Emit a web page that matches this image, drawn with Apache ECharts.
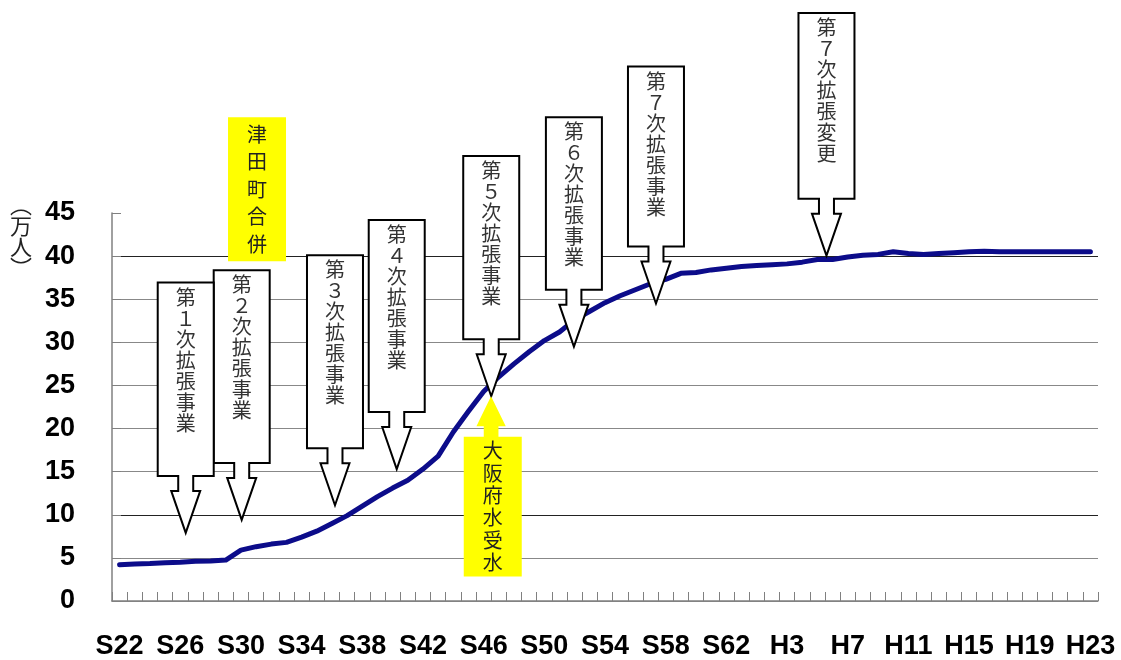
<!DOCTYPE html>
<html>
<head>
<meta charset="utf-8">
<script src="https://cdn.jsdelivr.net/npm/echarts@6/dist/echarts.min.js"></script>
<style>
html, body { margin: 0; padding: 0; background: #fff; }
#main { width: 1121px; height: 660px; }
</style>
</head>
<body>
<div id="main"></div>
<script>
// 年度 (昭和22年〜平成23年)
var years = ['S22','S23','S24','S25','S26','S27','S28','S29','S30','S31','S32','S33','S34','S35','S36','S37',
    'S38','S39','S40','S41','S42','S43','S44','S45','S46','S47','S48','S49','S50','S51','S52','S53','S54',
    'S55','S56','S57','S58','S59','S60','S61','S62','S63','H1','H2','H3','H4','H5','H6','H7','H8','H9',
    'H10','H11','H12','H13','H14','H15','H16','H17','H18','H19','H20','H21','H22','H23'];

// 給水人口 (万人)
var population = [4.2, 4.3, 4.35, 4.45, 4.5, 4.6, 4.65, 4.75, 5.9, 6.3, 6.6, 6.8, 7.4, 8.1, 9.0, 9.9,
    11.0, 12.1, 13.1, 14.0, 15.3, 16.8, 19.6, 22.0, 24.3, 26.0, 27.5, 28.9, 30.2, 31.2, 32.6, 33.6, 34.6,
    35.4, 36.1, 36.8, 37.3, 38.0, 38.1, 38.4, 38.6, 38.8, 38.9, 39.0, 39.1, 39.3, 39.6, 39.6, 39.9, 40.1, 40.2,
    40.5, 40.3, 40.2, 40.3, 40.4, 40.5, 40.55, 40.5, 40.5, 40.5, 40.5, 40.5, 40.5, 40.5];

// 拡張事業の吹き出し: 矢印の先(年度位置, 人口)と箱の上端(人口の目盛で)
var noteText = ['第１次拡張事業','第２次拡張事業','第３次拡張事業','第４次拡張事業',
    '第５次拡張事業','第６次拡張事業','第７次拡張事業','第７次拡張変更'];
var noteAt = [4.36, 8.05, 14.2, 18.27, 24.5, 29.95, 35.36, 46.6];
var noteTip = [7.9, 9.4, 11.1, 15.3, 23.75, 29.5, 34.5, 40.05];
var noteTop = [36.95, 38.35, 40.1, 44.2, 51.6, 56.1, 62.0, 68.2];

// 黄色の出来事
var eventText = ['津田町合併', '大阪府水受水'];
var eventAt = [9.06, 24.6];
var eventTop = [56.1, 19.05];
var eventBottom = [39.4, 2.83];
var eventTip = [null, 23.75];

var myChart = echarts.init(document.getElementById('main'));

var option = {
    animation: false,
    backgroundColor: '#fff',
    grid: {
        left: 112,
        right: 23,
        top: 213,
        bottom: 58
    },
    xAxis: {
        type: 'category',
        data: years,
        boundaryGap: true,
        axisLine: { lineStyle: { color: '#808080', width: 1.5 } },
        axisTick: {
            show: true,
            inside: true,
            length: 9,
            interval: 0,
            lineStyle: { color: '#808080' }
        },
        axisLabel: {
            interval: 3,
            margin: 32,
            color: '#000',
            fontSize: 27,
            fontWeight: 'bold',
            fontFamily: 'Liberation Sans, Arial, sans-serif'
        },
        splitLine: { show: false }
    },
    yAxis: {
        type: 'value',
        min: 0,
        max: 45,
        interval: 5,
        axisLine: { show: true, lineStyle: { color: '#808080', width: 1.5 } },
        axisTick: {
            show: true,
            inside: true,
            length: 9,
            lineStyle: { color: '#808080' }
        },
        axisLabel: {
            margin: 37,
            color: '#000',
            fontSize: 27,
            fontWeight: 'bold',
            fontFamily: 'Liberation Sans, Arial, sans-serif'
        },
        splitLine: {
            show: true,
            showMaxLine: false,
            lineStyle: {
                color: ['#888', '#888', '#222', '#888', '#888', '#888', '#888', '#888', '#222', '#888'],
                width: 1.2
            }
        }
    },
    series: [{
        name: '給水人口',
        type: 'line',
        data: population,
        showSymbol: false,
        symbol: 'none',
        smooth: false,
        lineStyle: {
            color: '#0c0c8a',
            width: 5,
            cap: 'round',
            join: 'round'
        },
        z: 2
    }]
};

option && myChart.setOption(option);

// 吹き出しを軸の目盛から配置
function buildNotes () {
    var p0 = myChart.convertToPixel({ gridIndex: 0 }, [0, 0]);
    var p1 = myChart.convertToPixel({ gridIndex: 0 }, [1, 45]);
    function xOf (i) { return p0[0] + (p1[0] - p0[0]) * i; }
    function yOf (v) { return p0[1] + (p1[1] - p0[1]) * v / 45; }

    var cjk = '"Noto Sans CJK JP", "Noto Sans CJK SC", sans-serif';
    var graphics = [];

    graphics.push({
        type: 'text',
        left: 10,
        top: 194,
        z: 100,
        style: {
            text: '︵\n万\n人\n︶',
            fill: '#222',
            font: '22px ' + cjk,
            lineHeight: 21,
            align: 'center'
        }
    });

    for (var k = 0; k < noteText.length; k++) {
        var cx = xOf(noteAt[k]);
        var tipY = yOf(noteTip[k]);
        var boxTop = yOf(noteTop[k]);
        var bb = tipY - 57;
        var sb = bb + 15;
        graphics.push({
            type: 'polygon',
            z: 100 + (noteText.length - k),
            shape: {
                points: [
                    [cx - 28, boxTop], [cx + 28, boxTop], [cx + 28, bb], [cx + 7.5, bb], [cx + 7.5, sb],
                    [cx + 14.5, sb], [cx, tipY], [cx - 14.5, sb], [cx - 7.5, sb], [cx - 7.5, bb], [cx - 28, bb]
                ]
            },
            style: { fill: '#fff', stroke: '#000', lineWidth: 2 }
        });
        var chars = noteText[k].split('');
        graphics.push({
            type: 'text',
            x: cx,
            y: boxTop + 4,
            z: 120,
            style: {
                text: chars.join('\n'),
                fill: '#333',
                font: '20px ' + cjk,
                lineHeight: 147 / chars.length,
                align: 'center',
                verticalAlign: 'top'
            }
        });
    }

    for (var e = 0; e < eventText.length; e++) {
        var ex = xOf(eventAt[e]);
        var et = yOf(eventTop[e]);
        var eb = yOf(eventBottom[e]);
        graphics.push({
            type: 'rect',
            z: 130,
            shape: { x: ex - 29, y: et, width: 58, height: eb - et },
            style: { fill: '#ffff00' }
        });
        if (eventTip[e] !== null) {
            var ty = yOf(eventTip[e]);
            var hb = ty + 30;
            graphics.push({
                type: 'polygon',
                z: 130,
                shape: {
                    points: [[ex - 1.7, ty], [ex + 13, hb], [ex + 5.7, hb], [ex + 5.7, et + 1],
                        [ex - 9, et + 1], [ex - 9, hb], [ex - 16.3, hb]]
                },
                style: { fill: '#ffff00' }
            });
        }
        var ec = eventText[e].split('');
        graphics.push({
            type: 'text',
            x: ex,
            y: et + 3,
            z: 140,
            style: {
                text: ec.join('\n'),
                fill: '#222',
                font: '20px ' + cjk,
                lineHeight: (eb - et - 6) / ec.length,
                align: 'center',
                verticalAlign: 'top'
            }
        });
    }

    myChart.setOption({ graphic: graphics });
}

buildNotes();
</script>
</body>
</html>
